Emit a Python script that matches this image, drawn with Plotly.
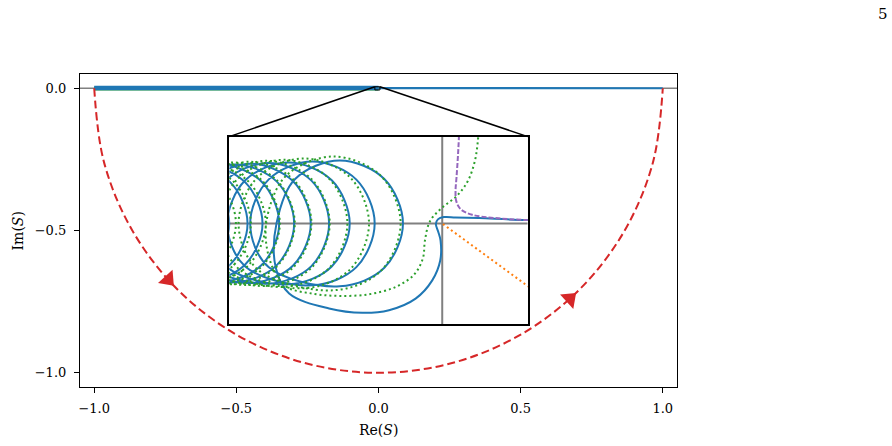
import math
import plotly.graph_objects as go

# ---------------- data (main axes, units of S) ----------------
arc_re = [-1.0, -0.9659, -0.8660, -0.7071, -0.5, -0.2588, 0.0, 0.2588, 0.5, 0.7071, 0.8660, 0.9659, 1.0]
arc_im = [0.0, -0.2588, -0.5, -0.7071, -0.8660, -0.9659, -1.0, -0.9659, -0.8660, -0.7071, -0.5, -0.2588, 0.0]
arrow_re = [-0.74, 0.673]
arrow_im = [-0.672, -0.74]

band_re = [-1.0, -0.5, 0.0]
band_blue_im = [0.0004, 0.0004, 0.0004]
band_green_im = [-0.0012, -0.0012, -0.0012]
tail_re = [0.0, 0.5, 1.0]
tail_im = [0.0002, 0.0001, 0.0]

x_ticks = [-1.0, -0.5, 0.0, 0.5, 1.0]
x_tick_text = ["\u22121.0", "\u22120.5", "0.0", "0.5", "1.0"]
y_ticks = [-1.0, -0.5, 0.0]
y_tick_text = ["\u22121.0", "\u22120.5", "0.0"]

# ---------------- data (inset, units of 2e-5) ----------------
SCALE = 2e-5
inset_x_range = [-640, 257]
inset_y_range = [-305, 262]

blue_re = [
    -812, -690, -640, -690, -812, -934, -984, -934,
    -759, -636, -585, -636, -759, -882, -933, -882,
    -716, -592, -540, -592, -716, -840, -892, -840,
    -667, -542, -490, -542, -667, -792, -844, -792,
    -623, -497, -445, -497, -623, -749, -801, -749,
    -575, -448, -395, -448, -575, -702, -755, -702,
    -522, -393, -340, -393, -522, -651, -704, -651,
    -462, -332, -278, -332, -462, -592, -646, -592,
    -390, -258, -203, -258, -390, -522, -577, -522,
    -308, -174, -118, -174, -308, -442, -498,
    -500, -460, -340, -240, -160, -80, -30, -6, -5, -12, -19, -13, 5, 40, 110, 257, 600]
blue_im = [
    -172, -122, 0, 122, 172, 122, 0, -122,
    -174, -123, 0, 123, 174, 123, 0, -123,
    -176, -124, 0, 124, 176, 124, 0, -124,
    -177, -125, 0, 125, 177, 125, 0, -125,
    -178, -126, 0, 126, 178, 126, 0, -126,
    -180, -127, 0, 127, 180, 127, 0, -127,
    -182, -129, 0, 129, 182, 129, 0, -129,
    -184, -130, 0, 130, 184, 130, 0, -130,
    -187, -132, 0, 132, 187, 132, 0, -132,
    -190, -134, 0, 134, 190, 134, 0,
    -135, -212, -257, -270, -262, -227, -172, -112, -52, -25, -2, 12, 19, 18, 16, 10, 8]

green_re = [
    -796, -672, -620, -672, -796, -920, -972, -920,
    -753, -627, -575, -627, -753, -879, -931, -879,
    -710, -583, -530, -583, -710, -837, -890, -837,
    -670, -541, -488, -541, -670, -799, -852, -799,
    -627, -497, -443, -497, -627, -757, -811, -757,
    -579, -447, -393, -447, -579, -711, -765, -711,
    -527, -393, -338, -393, -527, -661, -716, -661,
    -477, -341, -285, -341, -477, -613, -669, -613,
    -416, -277, -220, -277, -416, -555, -612, -555,
    -327, -184, -125, -184, -327, -470, -529,
    -515, -470, -390, -310, -220, -140, -85, -58, -52, -37, -1, 44, 77, 98, 107, 112]
green_im = [
    -176, -124, 0, 124, 176, 124, 0, -124,
    -178, -126, 0, 126, 178, 126, 0, -126,
    -180, -127, 0, 127, 180, 127, 0, -127,
    -182, -129, 0, 129, 182, 129, 0, -129,
    -184, -130, 0, 130, 184, 130, 0, -130,
    -186, -132, 0, 132, 186, 132, 0, -132,
    -189, -134, 0, 134, 189, 134, 0, -134,
    -192, -136, 0, 136, 192, 136, 0, -136,
    -196, -139, 0, 139, 196, 139, 0, -139,
    -202, -143, 0, 143, 202, 143, 0,
    -120, -190, -212, -219, -214, -192, -155, -105, -52, 6, 47, 83, 128, 188, 248, 330]

purple_re = [52, 50, 47, 43, 40, 42, 55, 90, 160, 257, 400]
purple_im = [330, 258, 200, 140, 98, 68, 43, 26, 16, 10, 8]

orange_re = [2, 250, 330]
orange_im = [-2, -184, -243]

# ---------------- styles ----------------
BLUE = "#1f77b4"
GREEN = "#2ca02c"
RED = "#d62728"
PURPLE = "#9467bd"
ORANGE = "#ff7f0e"
GRAY = "#808080"
FONT = "DejaVu Serif"

X_RANGE = [-1.05, 1.05]
Y_RANGE = [-1.05, 0.05]
INSET_DOM_X = [0.25, 0.75]
INSET_DOM_Y = [0.2, 0.8]

fig = go.Figure()

# main axes traces
fig.add_trace(go.Scatter(x=band_re, y=band_green_im, mode="lines",
                         line=dict(color=GREEN, width=4), hoverinfo="skip"))
fig.add_trace(go.Scatter(x=band_re, y=band_blue_im, mode="lines",
                         line=dict(color=BLUE, width=4.5), hoverinfo="skip"))
fig.add_trace(go.Scatter(x=tail_re, y=tail_im, mode="lines",
                         line=dict(color=BLUE, width=2.2), hoverinfo="skip"))
fig.add_trace(go.Scatter(x=arc_re, y=arc_im, mode="lines",
                         line=dict(color=RED, width=2, dash="8px,4px", shape="spline", smoothing=1.0),
                         hoverinfo="skip"))

arrow_angles = [math.degrees(math.atan2(-y, x)) for x, y in zip(arrow_re, arrow_im)]
fig.add_trace(go.Scatter(x=arrow_re, y=arrow_im, mode="markers",
                         marker=dict(symbol="triangle-up", size=17, color=RED,
                                     angle=arrow_angles, line=dict(width=0)),
                         hoverinfo="skip"))

# inset reference lines (Re = 0 and Im = 0)
fig.add_trace(go.Scatter(x=inset_x_range, y=[0, 0], mode="lines", xaxis="x2", yaxis="y2",
                         line=dict(color=GRAY, width=2), hoverinfo="skip"))
fig.add_trace(go.Scatter(x=[0, 0], y=inset_y_range, mode="lines", xaxis="x2", yaxis="y2",
                         line=dict(color=GRAY, width=2), hoverinfo="skip"))

# inset traces
fig.add_trace(go.Scatter(x=blue_re, y=blue_im, mode="lines", xaxis="x2", yaxis="y2",
                         line=dict(color=BLUE, width=2, shape="spline", smoothing=1.0),
                         hoverinfo="skip"))
fig.add_trace(go.Scatter(x=orange_re, y=orange_im, mode="lines", xaxis="x2", yaxis="y2",
                         line=dict(color=ORANGE, width=2, dash="2px,3px"),
                         hoverinfo="skip"))
fig.add_trace(go.Scatter(x=green_re, y=green_im, mode="lines", xaxis="x2", yaxis="y2",
                         line=dict(color=GREEN, width=2, dash="2px,3px", shape="spline", smoothing=1.0),
                         hoverinfo="skip"))
fig.add_trace(go.Scatter(x=purple_re, y=purple_im, mode="lines", xaxis="x2", yaxis="y2",
                         line=dict(color=PURPLE, width=2, dash="5px,2px", shape="spline", smoothing=1.0),
                         hoverinfo="skip"))

shapes = []
# main horizontal reference line
shapes.append(dict(type="line", xref="x domain", yref="y", x0=0, x1=1, y0=0, y1=0,
                   line=dict(color=GRAY, width=1.3), layer="below"))
# zoom box in main axes
bx0, bx1 = inset_x_range[0] * SCALE, inset_x_range[1] * SCALE
by0, by1 = inset_y_range[0] * SCALE, inset_y_range[1] * SCALE
shapes.append(dict(type="rect", xref="x", yref="y", x0=bx0, x1=bx1, y0=by0, y1=by1,
                   line=dict(color="black", width=1)))
# connectors from inset top corners to box top corners
ix0 = X_RANGE[0] + INSET_DOM_X[0] * (X_RANGE[1] - X_RANGE[0])
ix1 = X_RANGE[0] + INSET_DOM_X[1] * (X_RANGE[1] - X_RANGE[0])
iy1 = Y_RANGE[0] + INSET_DOM_Y[1] * (Y_RANGE[1] - Y_RANGE[0])
shapes.append(dict(type="line", xref="x", yref="y", x0=ix0, y0=iy1, x1=bx0, y1=by1,
                   line=dict(color="black", width=1.5)))
shapes.append(dict(type="line", xref="x", yref="y", x0=ix1, y0=iy1, x1=bx1, y1=by1,
                   line=dict(color="black", width=1.5)))

annotations = [
    dict(text="Re(<i>S</i>)", xref="paper", yref="paper", x=0.5, y=-0.137,
         showarrow=False, font=dict(family=FONT, size=14, color="black"),
         xanchor="center", yanchor="middle"),
    dict(text="Im(<i>S</i>)", xref="paper", yref="paper", x=-0.104, y=0.5,
         showarrow=False, textangle=-90, font=dict(family=FONT, size=14, color="black"),
         xanchor="center", yanchor="middle"),
    dict(text="5", xref="paper", yref="paper", x=1.345, y=1.192,
         showarrow=False, font=dict(family=FONT, size=15, color="black"),
         xanchor="center", yanchor="middle"),
]

axis_common = dict(showgrid=False, zeroline=False, showline=True, mirror=True,
                   linecolor="black", linewidth=1.2, ticks="outside", ticklen=5,
                   tickwidth=1.2, tickcolor="black", tickfont=dict(family=FONT, size=13))

fig.update_layout(
    width=892, height=446,
    margin=dict(l=80, r=215, t=74, b=59),
    paper_bgcolor="white", plot_bgcolor="white",
    showlegend=False,
    font=dict(family=FONT, size=13, color="black"),
    shapes=shapes, annotations=annotations,
    xaxis=dict(range=X_RANGE, tickvals=x_ticks, ticktext=x_tick_text,
               ticklabelstandoff=4, **axis_common),
    yaxis=dict(range=Y_RANGE, tickvals=y_ticks, ticktext=y_tick_text,
               ticklabelstandoff=5, **axis_common),
    xaxis2=dict(domain=INSET_DOM_X, anchor="y2", range=inset_x_range,
                showgrid=False, zeroline=False, showticklabels=False, ticks="",
                showline=True, mirror=True, linecolor="black", linewidth=1.6),
    yaxis2=dict(domain=INSET_DOM_Y, anchor="x2", range=inset_y_range,
                showgrid=False, zeroline=False, showticklabels=False, ticks="",
                showline=True, mirror=True, linecolor="black", linewidth=1.6),
)

fig.write_html("out.html")
